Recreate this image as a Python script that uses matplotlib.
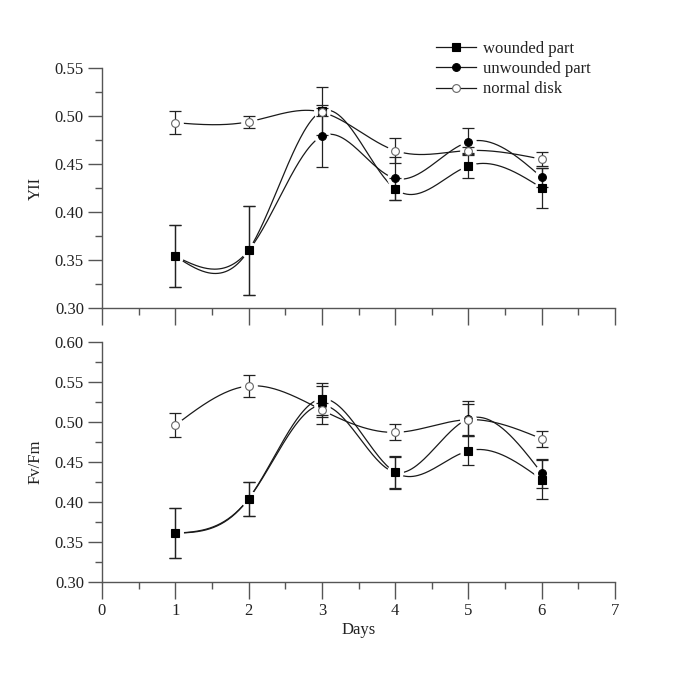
import numpy as np
import matplotlib
matplotlib.use("Agg")
import matplotlib.pyplot as plt
from matplotlib.ticker import MultipleLocator, FormatStrFormatter
from matplotlib.lines import Line2D

plt.rcParams['font.family'] = ['Liberation Serif', 'DejaVu Serif']

days = [1, 2, 3, 4, 5, 6]
series_names = ["wounded part", "unwounded part", "normal disk"]

# Top panel: YII
yii_wounded = [0.354, 0.360, 0.505, 0.424, 0.448, 0.425]
yii_wounded_err = [0.032, 0.046, 0.025, 0.011, 0.013, 0.021]
yii_unwounded = [0.354, 0.360, 0.479, 0.435, 0.473, 0.436]
yii_unwounded_err = [0.032, 0.046, 0.032, 0.022, 0.014, 0.010]
yii_normal = [0.493, 0.494, 0.504, 0.464, 0.464, 0.455]
yii_normal_err = [0.012, 0.006, 0.004, 0.013, 0.004, 0.007]

# Bottom panel: Fv/Fm
fvfm_wounded = [0.361, 0.404, 0.529, 0.437, 0.464, 0.428]
fvfm_wounded_err = [0.031, 0.021, 0.020, 0.021, 0.018, 0.024]
fvfm_unwounded = [0.361, 0.404, 0.521, 0.437, 0.504, 0.436]
fvfm_unwounded_err = [0.031, 0.021, 0.024, 0.019, 0.022, 0.018]
fvfm_normal = [0.496, 0.545, 0.515, 0.487, 0.503, 0.479]
fvfm_normal_err = [0.015, 0.014, 0.009, 0.010, 0.019, 0.010]


def natural_spline(x, y, n=300):
    x = np.asarray(x, float)
    y = np.asarray(y, float)
    k = len(x)
    h = np.diff(x)
    A = np.zeros((k, k))
    b = np.zeros(k)
    A[0, 0] = 1
    A[-1, -1] = 1
    for i in range(1, k - 1):
        A[i, i - 1] = h[i - 1]
        A[i, i] = 2 * (h[i - 1] + h[i])
        A[i, i + 1] = h[i]
        b[i] = 6 * ((y[i + 1] - y[i]) / h[i] - (y[i] - y[i - 1]) / h[i - 1])
    M = np.linalg.solve(A, b)
    xs = np.linspace(x[0], x[-1], n)
    ys = np.empty_like(xs)
    for j, xv in enumerate(xs):
        i = min(np.searchsorted(x, xv) - 1, k - 2)
        i = max(i, 0)
        t1 = x[i + 1] - xv
        t0 = xv - x[i]
        ys[j] = (M[i] * t1 ** 3 / (6 * h[i]) + M[i + 1] * t0 ** 3 / (6 * h[i])
                 + (y[i] / h[i] - M[i] * h[i] / 6) * t1
                 + (y[i + 1] / h[i] - M[i + 1] * h[i] / 6) * t0)
    return xs, ys


fig = plt.figure(figsize=(6.85, 6.85), dpi=100)
ax1 = fig.add_axes([0.1489, 0.5504, 0.749, 0.3503])
ax2 = fig.add_axes([0.1489, 0.1504, 0.749, 0.3503])

line_c = '#1a1a1a'
axis_c = '#555555'
text_c = '#222222'

styles = [
    dict(marker='s', mfc='black', mec='black'),
    dict(marker='o', mfc='black', mec='black'),
    dict(marker='o', mfc='white', mec='#666666'),
]


def draw(ax, vals, errs):
    for v, e, st in zip(vals, errs, styles):
        xs, ys = natural_spline(days, v)
        ax.plot(xs, ys, color=line_c, lw=0.9, zorder=2)
    for v, e, st in zip(vals, errs, styles):
        ax.plot(days, v, ls='none', marker='o', ms=11, mfc='white', mec='white', zorder=3)
    for v, e, st in zip(vals, errs, styles):
        ax.errorbar(days, v, yerr=e, fmt='none', ecolor='#222222', elinewidth=0.9,
                    capsize=4.5, capthick=0.9, zorder=4)
    for v, e, st in zip(vals, errs, styles):
        ax.plot(days, v, ls='none', marker=st['marker'], ms=5.6,
                mfc=st['mfc'], mec=st['mec'], mew=0.8, zorder=5)


draw(ax1, [yii_wounded, yii_unwounded, yii_normal],
     [yii_wounded_err, yii_unwounded_err, yii_normal_err])
draw(ax2, [fvfm_wounded, fvfm_unwounded, fvfm_normal],
     [fvfm_wounded_err, fvfm_unwounded_err, fvfm_normal_err])

for ax, (lo, hi) in [(ax1, (0.30, 0.55)), (ax2, (0.30, 0.60))]:
    ax.set_xlim(0, 7)
    ax.set_ylim(lo, hi)
    for s in ['top', 'right']:
        ax.spines[s].set_visible(False)
    for s in ['left', 'bottom']:
        ax.spines[s].set_color(axis_c)
        ax.spines[s].set_linewidth(1.0)
    ax.xaxis.set_major_locator(MultipleLocator(1))
    ax.xaxis.set_minor_locator(MultipleLocator(0.5))
    ax.yaxis.set_major_locator(MultipleLocator(0.05))
    ax.yaxis.set_minor_locator(MultipleLocator(0.025))
    ax.yaxis.set_major_formatter(FormatStrFormatter('%.2f'))
    ax.tick_params(axis='y', which='major', direction='out', length=10, width=1,
                   color=axis_c, labelsize=12, labelcolor=text_c, pad=3)
    ax.tick_params(axis='y', which='minor', direction='out', length=5, width=1, color=axis_c)
    ax.tick_params(axis='x', which='major', direction='out', length=12, width=1,
                   color=axis_c, labelsize=12, labelcolor=text_c, pad=3)
    ax.tick_params(axis='x', which='minor', direction='out', length=5, width=1, color=axis_c)

ax1.tick_params(axis='x', labelbottom=False)
ax1.set_ylabel('YII', fontsize=12, color=text_c, labelpad=8)
ax2.set_ylabel('Fv/Fm', fontsize=12, color=text_c, labelpad=8)
ax2.set_xlabel('Days', fontsize=12, color=text_c, labelpad=2)

handles = []
for st in styles:
    handles.append(Line2D([0], [0], color=line_c, lw=0.9, marker=st['marker'], ms=5.6,
                          mfc=st['mfc'], mec=st['mec'], mew=0.8))
fig.legend(handles, series_names, loc='upper left', bbox_to_anchor=(0.615, 0.962),
           frameon=False, fontsize=12, handlelength=2.4, handletextpad=0.4,
           labelspacing=0.25, labelcolor=text_c)

fig.savefig('out.png', dpi=100)
